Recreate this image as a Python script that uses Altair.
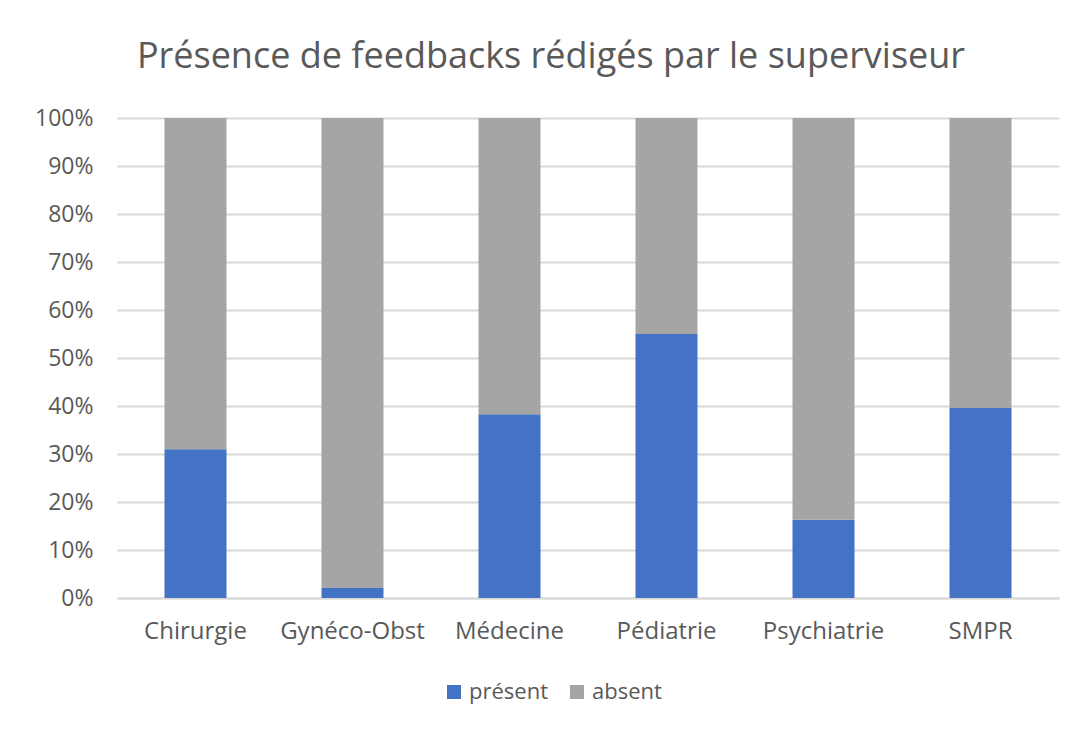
import altair as alt
import pandas as pd

categories = ["Chirurgie", "Gynéco-Obst", "Médecine", "Pédiatrie", "Psychiatrie", "SMPR"]
present = [0.31, 0.021, 0.383, 0.55, 0.163, 0.396]
absent = [round(1 - v, 3) for v in present]
series = ["présent", "absent"]
colors = ["#4472C4", "#A5A5A5"]

rows = []
for c, p, a in zip(categories, present, absent):
    rows.append({"cat": c, "serie": "présent", "val": p, "ord": 0})
    rows.append({"cat": c, "serie": "absent", "val": a, "ord": 1})
df = pd.DataFrame(rows)

FONT = "Open Sans"
TXT = "#595959"
GRID = "#D9D9D9"

chart = alt.Chart(df).mark_bar().encode(
    x=alt.X("cat:N", sort=categories,
            scale=alt.Scale(paddingInner=0.605, paddingOuter=0.3025),
            axis=alt.Axis(title=None, labelAngle=0, labelFontSize=24, labelFont=FONT,
                          labelColor=TXT, ticks=False, domain=True, domainColor=GRID,
                          domainWidth=2, labelPadding=21, grid=False)),
    y=alt.Y("val:Q", stack="zero",
            scale=alt.Scale(domain=[0, 1]),
            axis=alt.Axis(title=None, format=".0%", values=[i / 10 for i in range(11)],
                          labelFontSize=23, labelFont=FONT, labelColor=TXT, ticks=False,
                          domain=False, gridColor=GRID, gridWidth=2, labelPadding=24)),
    color=alt.Color("serie:N", sort=series,
                    scale=alt.Scale(domain=series, range=colors),
                    legend=alt.Legend(title=None, orient="none", direction="horizontal",
                                      legendX=326, legendY=563, symbolType="square",
                                      symbolSize=196, symbolStrokeWidth=0, labelFontSize=22,
                                      labelFont=FONT, labelColor=TXT, columnPadding=18,
                                      labelOffset=4)),
    order=alt.Order("ord:Q"),
).properties(
    width=942,
    height=480,
    background="white",
    padding={"left": 109, "top": 110, "right": 24, "bottom": 133},
    autosize=alt.AutoSizeParams(type="none"),
    title=alt.TitleParams("Présence de feedbacks rédigés par le superviseur",
                          font=FONT, fontSize=36, fontWeight="normal", color=TXT,
                          anchor="middle", dx=-37, offset=31),
).configure_view(strokeWidth=0, stroke=None)

chart.save("out.html", embed_options={"renderer": "svg", "actions": False})
